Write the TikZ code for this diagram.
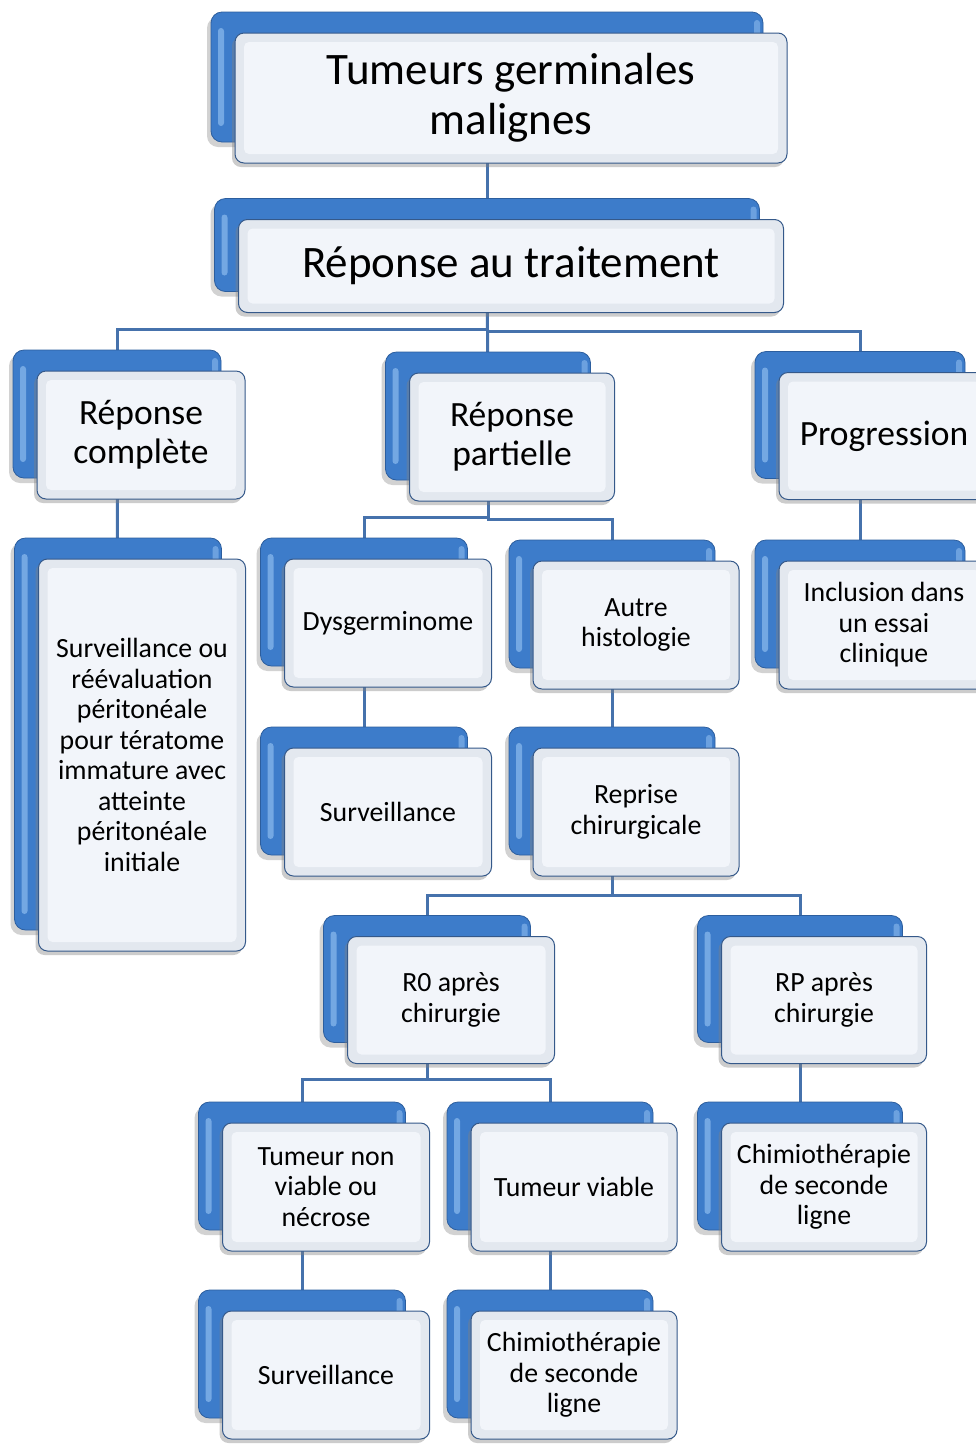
\documentclass[tikz,border=0pt]{standalone}
\usepackage{fontspec}
\setmainfont{Carlito}
\usetikzlibrary{shadows}

\definecolor{backblue}{HTML}{3D7CCA}
\definecolor{backedge}{HTML}{2C5E9E}
\definecolor{backlight}{HTML}{8CBBEE}
\definecolor{frontrim}{HTML}{E3E8EF}
\definecolor{frontin}{HTML}{F2F5FA}
\definecolor{frontedge}{HTML}{35598A}
\definecolor{linkblue}{HTML}{4672AC}

\pgfdeclarelayer{paper}
\pgfdeclarelayer{links}
\pgfsetlayers{paper,links,main}

\tikzset{
  backbox/.style={draw=backedge, line width=0.8pt, rounded corners=11pt,
    fill=backblue, inner sep=0pt,
    drop shadow={shadow xshift=-4pt, shadow yshift=-5pt, opacity=0.35, fill=gray},
    path picture={
      \fill[backlight, opacity=0.7, rounded corners=3pt]
        ([shift={(7pt,-16pt)}]path picture bounding box.north west) rectangle
        ([shift={(13pt,16pt)}]path picture bounding box.south west);
      \fill[backlight, opacity=0.6, rounded corners=3pt]
        ([shift={(-9pt,-8pt)}]path picture bounding box.north east) rectangle
        ([shift={(-3pt,-40pt)}]path picture bounding box.north east);
    }},
  frontbox/.style={draw=frontedge, line width=1pt, rounded corners=9pt,
    fill=frontrim, inner sep=3pt, align=center, text=black,
    drop shadow={shadow xshift=-3pt, shadow yshift=-4pt, opacity=0.4, fill=gray},
    path picture={
      \fill[frontin, rounded corners=5pt]
        ([shift={(9pt,-9pt)}]path picture bounding box.north west) rectangle
        ([shift={(-9pt,9pt)}]path picture bounding box.south east);
    }},
  link/.style={draw=linkblue, line width=3pt},
  bigtext/.style={font=\fontsize{45}{50}\selectfont},
  midtext/.style={font=\fontsize{35.5}{39}\selectfont},
  smalltext/.style={font=\fontsize{27.8}{30.5}\selectfont},
}

% back card + front card carrying the label
% #1 name, #2 x, #3 y, #4 width, #5 height, #6 text style, #7 label
\newcommand\orgcard[7]{%
  \node[backbox, minimum width=#4, minimum height=#5] (b#1) at (#2,#3) {};
  \node[frontbox, #6, minimum width=#4, minimum height=#5]
    (f#1) at ([shift={(24pt,-21pt)}]b#1.center) {#7};
}

\begin{document}
\begin{tikzpicture}[x=1pt, y=-1pt]
  \begin{pgfonlayer}{paper}
    \fill[white] (0,0) rectangle (976,1444);
  \end{pgfonlayer}
  \clip (0,0) rectangle (976,1444);
  \useasboundingbox (0,0) rectangle (976,1444);

  \orgcard{top}{487}{77}{552pt}{130pt}{bigtext}{Tumeurs germinales\\malignes}
  \orgcard{rep}{487}{245}{545pt}{93pt}{bigtext}{Réponse au traitement}

  \orgcard{rc}{117}{414}{208pt}{128pt}{midtext}{Réponse\\complète}
  \orgcard{rp}{488}{416}{205pt}{128pt}{midtext}{Réponse\\partielle}
  \orgcard{prog}{860}{415}{210pt}{127pt}{midtext}{Progression}

  \orgcard{surv1}{118}{734}{207pt}{392pt}{smalltext}{Surveillance ou\\réévaluation\\péritonéale\\pour tératome\\immature avec\\atteinte\\péritonéale\\initiale}
  \orgcard{dys}{364}{602}{207pt}{128pt}{smalltext}{Dysgerminome}
  \orgcard{autre}{612}{604}{206pt}{128pt}{smalltext}{Autre\\histologie}
  \orgcard{incl}{860}{604}{210pt}{128pt}{smalltext}{Inclusion dans\\un essai\\clinique}

  \orgcard{surv2}{364}{791}{207pt}{128pt}{smalltext}{Surveillance}
  \orgcard{rep2}{612}{791}{206pt}{128pt}{smalltext}{Reprise\\chirurgicale}

  \orgcard{rzero}{427}{979}{207pt}{127pt}{smalltext}{R0 après\\chirurgie}
  \orgcard{rpart}{800}{979}{205pt}{127pt}{smalltext}{RP après\\chirurgie}

  \orgcard{nonv}{302}{1166}{207pt}{128pt}{smalltext}{Tumeur non\\viable ou\\nécrose}
  \orgcard{viab}{550}{1166}{206pt}{128pt}{smalltext}{Tumeur viable}
  \orgcard{chimA}{800}{1166}{205pt}{128pt}{smalltext}{Chimiothérapie\\de seconde\\ligne}

  \orgcard{surv3}{302}{1354}{207pt}{128pt}{smalltext}{Surveillance}
  \orgcard{chimB}{550}{1354}{206pt}{128pt}{smalltext}{Chimiothérapie\\de seconde\\ligne}

  % connectors run behind the cards
  \begin{pgfonlayer}{links}
    \draw[link] (btop.center) -- (brep.center);
    \draw[link] (brep.center) |- ([yshift=20pt]brc.north) -- (brc.center);
    \draw[link] (brep.center) -- (brp.center);
    \draw[link] (brep.center) |- ([yshift=20pt]bprog.north) -- (bprog.center);
    \draw[link] (brc.center) -- (bsurv1.center);
    \draw[link] (brp.center) |- ([yshift=20pt]bdys.north) -- (bdys.center);
    \draw[link] (brp.center) |- ([yshift=20pt]bautre.north) -- (bautre.center);
    \draw[link] (bprog.center) -- (bincl.center);
    \draw[link] (bdys.center) -- (bsurv2.center);
    \draw[link] (bautre.center) -- (brep2.center);
    \draw[link] (brep2.center) |- ([yshift=20pt]brzero.north) -- (brzero.center);
    \draw[link] (brep2.center) |- ([yshift=20pt]brpart.north) -- (brpart.center);
    \draw[link] (brzero.center) |- ([yshift=22pt]bnonv.north) -- (bnonv.center);
    \draw[link] (brzero.center) |- ([yshift=22pt]bviab.north) -- (bviab.center);
    \draw[link] (brpart.center) -- (bchimA.center);
    \draw[link] (bnonv.center) -- (bsurv3.center);
    \draw[link] (bviab.center) -- (bchimB.center);
  \end{pgfonlayer}
\end{tikzpicture}
\end{document}
